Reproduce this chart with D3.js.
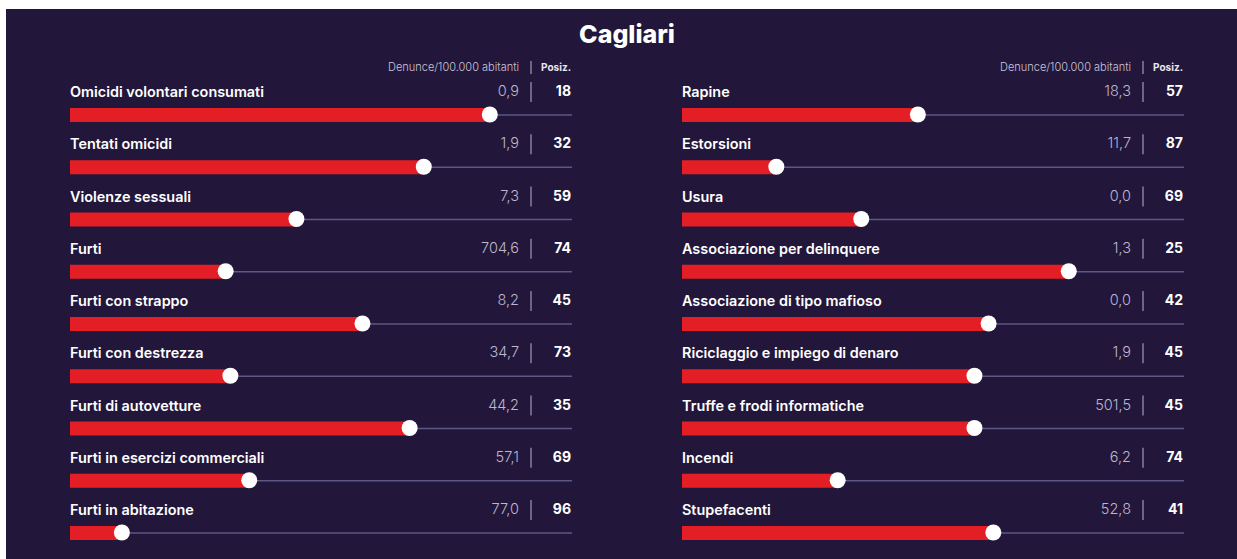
<!DOCTYPE html>
<html>
<head>
<meta charset="utf-8">
<script src="https://cdn.jsdelivr.net/npm/d3@7"></script>
<style>
  body { margin: 0; background: #fff; }
  text { font-family: Inter, "Open Sans", sans-serif; }
</style>
</head>
<body>
<div id="chart"></div>
<script>
// data
const title = "Cagliari"
const leftCrimes = ["Omicidi volontari consumati", "Tentati omicidi", "Violenze sessuali", "Furti",
  "Furti con strappo", "Furti con destrezza", "Furti di autovetture", "Furti in esercizi commerciali",
  "Furti in abitazione"]
const leftRates = [0.9, 1.9, 7.3, 704.6, 8.2, 34.7, 44.2, 57.1, 77.0]
const leftRanks = [18, 32, 59, 74, 45, 73, 35, 69, 96]

const rightCrimes = ["Rapine", "Estorsioni", "Usura", "Associazione per delinquere",
  "Associazione di tipo mafioso", "Riciclaggio e impiego di denaro", "Truffe e frodi informatiche",
  "Incendi", "Stupefacenti"]
const rightRates = [18.3, 11.7, 0.0, 1.3, 0.0, 1.9, 501.5, 6.2, 52.8]
const rightRanks = [57, 87, 69, 25, 42, 45, 45, 74, 41]

const headerRate = "Denunce/100.000 abitanti"
const headerRank = "Posiz."

const width = 1237
const height = 559

const svg = d3.select("#chart").append("svg")
  .attr("width", width)
  .attr("height", height)

svg.append("rect")
  .attr("x", 6).attr("y", 9)
  .attr("width", width - 6).attr("height", height - 9)
  .attr("fill", "#22173a")

svg.append("text")
  .attr("x", 627).attr("y", 43)
  .attr("text-anchor", "middle")
  .attr("fill", "#ffffff")
  .attr("font-size", 25)
  .attr("font-weight", 800)
  .text(title)

const itFormat = d3.formatLocale({decimal: ",", thousands: ".", grouping: [3], currency: ["", "€"]}).format(".1f")

// rank 1 = longest bar
const xScale = d3.scaleLinear().domain([107, 1]).range([0, 500])
const yScale = d3.scaleLinear().domain([0, 8]).range([115, 533])

function drawPanel(x0, crimes, rates, ranks) {
  const trackEnd = 502
  const g = svg.append("g").attr("transform", "translate(" + x0 + ",0)")
  const rows = crimes.map((c, i) => ({name: c, rate: rates[i], rank: ranks[i], i: i}))

  // header
  g.append("text")
    .attr("x", 449).attr("y", 71)
    .attr("text-anchor", "end")
    .attr("fill", "#c9c4dc")
    .attr("font-size", 11)
    .attr("font-weight", 300)
    .text(headerRate)
  g.append("line")
    .attr("x1", 461).attr("x2", 461).attr("y1", 61).attr("y2", 74)
    .attr("stroke", "#b9b4cc").attr("stroke-width", 1)
  g.append("text")
    .attr("x", 501).attr("y", 71)
    .attr("text-anchor", "end")
    .attr("fill", "#e8e6f0")
    .attr("font-size", 10)
    .attr("font-weight", 700)
    .text(headerRank)

  const row = g.selectAll("g.row")
    .data(rows)
    .join("g")
    .attr("class", "row")
    .attr("transform", d => "translate(0," + yScale(d.i) + ")")

  row.append("line")
    .attr("x1", 0).attr("x2", trackEnd)
    .attr("y1", 0).attr("y2", 0)
    .attr("stroke", "#5d5784").attr("stroke-width", 1.5)

  row.append("rect")
    .attr("x", 0).attr("y", -7)
    .attr("width", d => xScale(d.rank))
    .attr("height", 14)
    .attr("fill", "#e31e24")

  row.append("circle")
    .attr("cx", d => xScale(d.rank))
    .attr("cy", -0.5)
    .attr("r", 8)
    .attr("fill", "#ffffff")

  row.append("text")
    .attr("x", 0).attr("y", -18)
    .attr("fill", "#ffffff")
    .attr("font-size", 14.4)
    .attr("font-weight", 600)
    .text(d => d.name)

  row.append("text")
    .attr("x", 449).attr("y", -19)
    .attr("text-anchor", "end")
    .attr("fill", "#bdb8d0")
    .attr("font-size", 14.5)
    .attr("font-weight", 300)
    .text(d => itFormat(d.rate))

  row.append("line")
    .attr("x1", 461).attr("x2", 461).attr("y1", -33).attr("y2", -13)
    .attr("stroke", "#b9b4cc").attr("stroke-width", 1)

  row.append("text")
    .attr("x", 501).attr("y", -19)
    .attr("text-anchor", "end")
    .attr("fill", "#ffffff")
    .attr("font-size", 14)
    .attr("font-weight", 700)
    .text(d => d.rank)
}

drawPanel(70, leftCrimes, leftRates, leftRanks)
drawPanel(682, rightCrimes, rightRates, rightRanks)
</script>
</body>
</html>
